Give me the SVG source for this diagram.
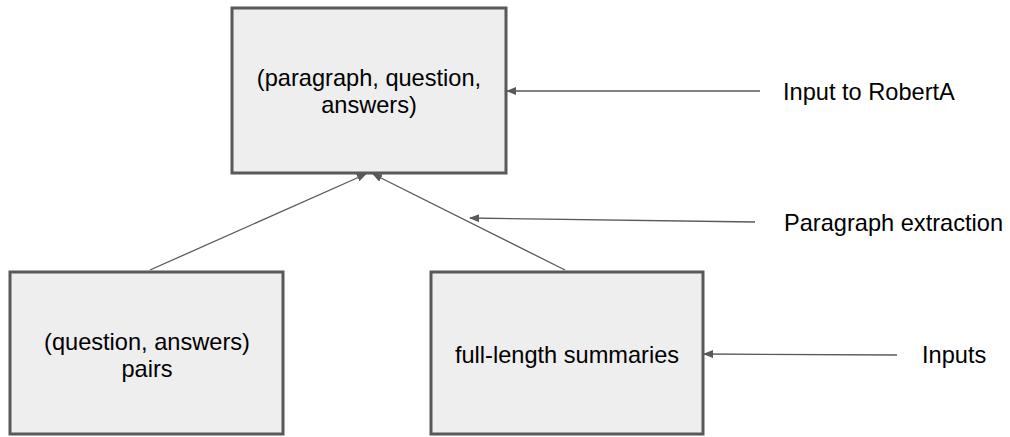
<svg xmlns="http://www.w3.org/2000/svg" width="1010" height="437" viewBox="0 0 1010 437">
<style>
.box{fill:#eeeeee;stroke:#595959;stroke-width:3}
.t{font-family:"Liberation Sans",Arial,sans-serif;font-size:23.6px;fill:#000}
.c{stroke:#595959;stroke-width:1.3;fill:none;marker-end:url(#ah)}
</style>
<defs>
<marker id="ah" markerWidth="10" markerHeight="8" refX="9" refY="4" orient="auto" markerUnits="userSpaceOnUse">
<path d="M0,0 L10,4 L0,8 z" fill="#595959"/>
</marker>
</defs>
<rect width="1010" height="437" fill="#fff"/>
<g id="connectors">
<line class="c" x1="150" y1="270" x2="366" y2="174"/>
<line class="c" x1="565" y1="270" x2="373" y2="174"/>
<line class="c" x1="760" y1="91" x2="507" y2="91"/>
<line class="c" x1="755" y1="222" x2="470" y2="218"/>
<line class="c" x1="897" y1="355" x2="704" y2="354"/>
</g>
<g id="node-top">
<rect class="box" x="232" y="8" width="274" height="165"/>
<text class="t" text-anchor="middle" x="369" y="86">(paragraph, question,</text>
<text class="t" text-anchor="middle" x="369" y="113">answers)</text>
</g>
<g id="node-qa">
<rect class="box" x="10" y="272" width="273" height="162"/>
<text class="t" text-anchor="middle" x="147" y="350">(question, answers)</text>
<text class="t" text-anchor="middle" x="147" y="377">pairs</text>
</g>
<g id="node-summaries">
<rect class="box" x="431" y="272" width="272" height="162"/>
<text class="t" text-anchor="middle" x="567" y="363">full-length summaries</text>
</g>
<g id="label-input-robertA">
<text class="t" x="783" y="100">Input to RobertA</text>
</g>
<g id="label-paragraph-extraction">
<text class="t" x="784" y="231">Paragraph extraction</text>
</g>
<g id="label-inputs">
<text class="t" x="922" y="363">Inputs</text>
</g>
</svg>
